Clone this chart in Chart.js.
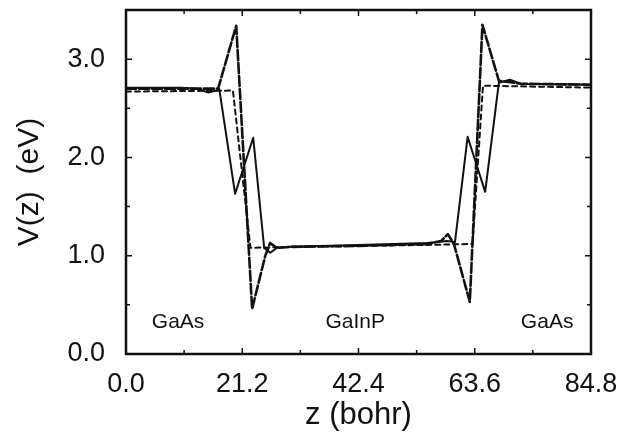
<!DOCTYPE html>
<html>
<head>
<meta charset="utf-8">
<title>V(z)</title>
<script src="https://cdn.jsdelivr.net/npm/chart.js@4.4.1/dist/chart.umd.min.js"></script>
<style>
  html, body { margin: 0; padding: 0; background: #fff; }
  #wrap { width: 634px; height: 438px; position: relative; }
</style>
</head>
<body>
<div id="wrap"><canvas id="potChart"></canvas></div>
<script>
// tick labels
const xTicks = [0, 21.2, 42.4, 63.6, 84.8];
const xMinor = [10.6, 31.8, 53.0, 74.2];
const yTicks = [0, 1, 2, 3];
const yMinor = [0.5, 1.5, 2.5];

// solid curve
const solidZ = [0, 5, 10, 13, 15, 16.5, 17.0, 19.9, 23.2, 25.2, 26.3, 27.5, 30, 42.4, 55, 58.5, 60.0, 62.3, 65.5, 68.0, 70, 72, 84.8];
const solidV = [2.71, 2.71, 2.71, 2.70, 2.66, 2.68, 2.70, 1.63, 2.20, 1.08, 1.03, 1.08, 1.09, 1.11, 1.13, 1.15, 1.14, 2.21, 1.65, 2.76, 2.79, 2.75, 2.74];

// long-dashed curve
const longZ = [0, 10, 16.8, 20.1, 23.0, 25.4, 26.3, 27.5, 30, 42.4, 55, 57.5, 58.7, 59.8, 62.7, 65.0, 68.0, 72, 84.8];
const longV = [2.70, 2.70, 2.70, 3.34, 0.46, 1.00, 1.13, 1.08, 1.09, 1.10, 1.12, 1.15, 1.22, 1.12, 0.53, 3.35, 2.78, 2.75, 2.74];

// short-dashed curve
const shortZ = [0, 19.5, 22.7, 30, 42.4, 55, 63.2, 65.1, 84.8];
const shortV = [2.67, 2.68, 1.08, 1.09, 1.10, 1.11, 1.12, 2.73, 2.71];

// region labels
const regionNames = ["GaAs", "GaInP", "GaAs"];
const regionZ = [9.5, 41.8, 76.8];
const regionV = 0.32;

function pts(zs, vs) {
    return zs.map((z, i) => ({ x: z, y: vs[i] }));
}

const frameAndTicks = {
    id: "frameAndTicks",
    afterDraw(chart) {
        const ctx = chart.ctx;
        const a = chart.chartArea;
        const xs = chart.scales.x;
        const ys = chart.scales.y;
        ctx.save();
        ctx.strokeStyle = "#111";
        ctx.lineWidth = 1.5;
        ctx.beginPath();
        function xt(v, len) {
            const px = xs.getPixelForValue(v);
            ctx.moveTo(px, a.bottom); ctx.lineTo(px, a.bottom - len);
            ctx.moveTo(px, a.top); ctx.lineTo(px, a.top + len);
        }
        function yt(v, len) {
            const py = ys.getPixelForValue(v);
            ctx.moveTo(a.left, py); ctx.lineTo(a.left + len, py);
            ctx.moveTo(a.right, py); ctx.lineTo(a.right - len, py);
        }
        xTicks.forEach(v => xt(v, 6));
        xMinor.forEach(v => xt(v, 4));
        yTicks.forEach(v => yt(v, 6));
        yMinor.forEach(v => yt(v, 4));
        ctx.stroke();
        ctx.lineWidth = 2.5;
        ctx.strokeRect(a.left, a.top, a.right - a.left, a.bottom - a.top);

        ctx.fillStyle = "#111";
        ctx.font = "21px 'Liberation Sans', Arial, sans-serif";
        ctx.textAlign = "center";
        ctx.textBaseline = "middle";
        regionNames.forEach((name, i) => {
            ctx.fillText(name, xs.getPixelForValue(regionZ[i]), ys.getPixelForValue(regionV));
        });
        ctx.restore();
    }
};

const tickFont = { family: "'Liberation Sans', Arial, sans-serif", size: 27 };

new Chart(document.getElementById("potChart"), {
    type: "line",
    data: {
        datasets: [
            { label: "solid", data: pts(solidZ, solidV), borderColor: "#111", borderWidth: 2 },
            { label: "long dash", data: pts(longZ, longV), borderColor: "#111", borderWidth: 2.6, borderDash: [10, 3] },
            { label: "short dash", data: pts(shortZ, shortV), borderColor: "#111", borderWidth: 2, borderDash: [5, 4] }
        ]
    },
    options: {
        responsive: true,
        maintainAspectRatio: false,
        animation: false,
        layout: { padding: { top: 10, right: 43, left: 0, bottom: 0 } },
        elements: { point: { radius: 0 }, line: { tension: 0, fill: false, borderJoinStyle: "round", borderCapStyle: "round" } },
        plugins: { legend: { display: false }, tooltip: { enabled: false } },
        scales: {
            x: {
                type: "linear",
                min: 0,
                max: 84.8,
                afterBuildTicks: s => { s.ticks = xTicks.map(v => ({ value: v })); },
                afterFit: s => { s.height = 84; s.paddingLeft = 0; s.paddingRight = 0; },
                grid: { display: false, drawTicks: false },
                border: { display: false },
                ticks: { color: "#111", font: tickFont, padding: 14, maxRotation: 0, callback: v => v.toFixed(1) },
                title: { display: true, text: "z (bohr)", color: "#111", font: { family: "'Liberation Sans', Arial, sans-serif", size: 31 }, padding: { top: 0, bottom: 4 } }
            },
            y: {
                type: "linear",
                min: 0,
                max: 3.5,
                afterBuildTicks: s => { s.ticks = yTicks.map(v => ({ value: v })); },
                afterFit: s => { s.width = 126; s.paddingTop = 0; s.paddingBottom = 0; },
                grid: { display: false, drawTicks: false },
                border: { display: false },
                ticks: { color: "#111", font: tickFont, padding: 21, callback: v => v.toFixed(1) },
                title: { display: true, text: "V(z)  (eV)", color: "#111", font: { family: "'Liberation Sans', Arial, sans-serif", size: 30 }, padding: { top: 12, bottom: 0 } }
            }
        }
    },
    plugins: [frameAndTicks]
});
</script>
</body>
</html>
